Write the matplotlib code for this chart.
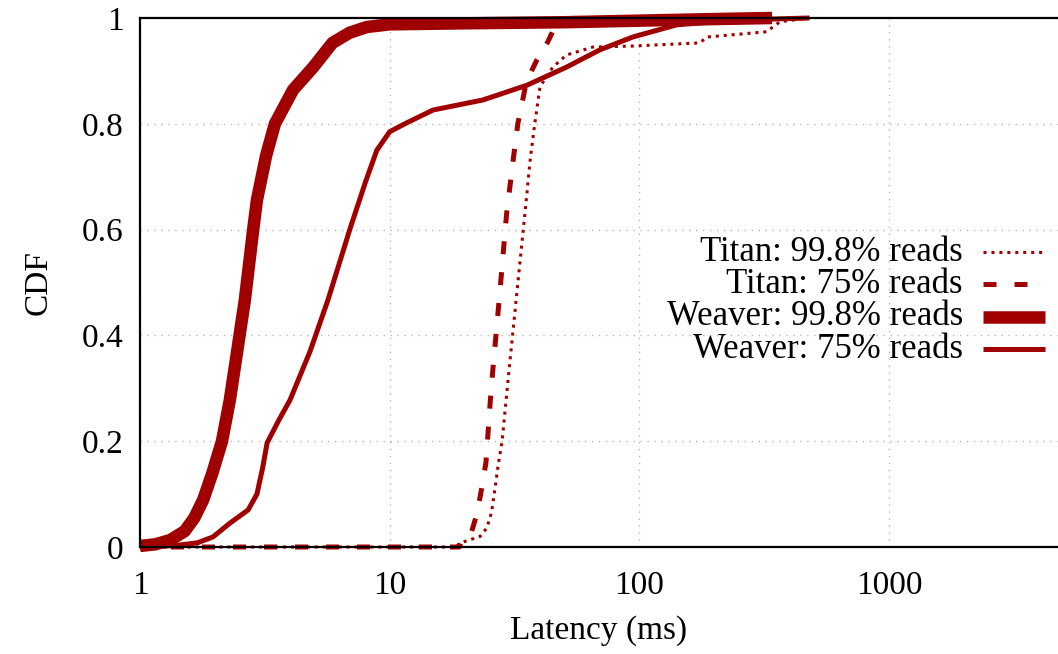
import matplotlib
matplotlib.use("Agg")
import matplotlib.pyplot as plt
from matplotlib.lines import Line2D

# latency (ms) / CDF values
titan998_x = [1, 18.5, 19, 23, 24.5, 25.6, 26.4, 27.2, 28.2, 30, 32.3, 34.8, 36.5, 38.1, 40, 45, 51, 65, 94, 175, 186, 323, 366, 480]
titan998_y = [0, 0, 0.007, 0.02, 0.036, 0.066, 0.11, 0.155, 0.20, 0.33, 0.48, 0.63, 0.73, 0.80, 0.87, 0.907, 0.93, 0.945, 0.947, 0.953, 0.964, 0.974, 0.993, 1.0]

titan75_x = [1, 19, 19.6, 21, 22.4, 23.4, 24.3, 25.5, 27.6, 29.4, 31.2, 32.6, 35.3, 38.8, 43, 45, 48, 55]
titan75_y = [0, 0, 0.013, 0.02, 0.064, 0.113, 0.16, 0.3, 0.48, 0.63, 0.73, 0.80, 0.88, 0.92, 0.955, 0.975, 0.99, 1.0]

weaver998_x = [1.0, 1.15, 1.32, 1.51, 1.65, 1.79, 1.95, 2.13, 2.29, 2.45, 2.63, 2.84, 2.94, 3.2, 3.47, 4.1, 4.94, 5.9, 6.9, 8.1, 10, 20, 50, 100, 200, 340]
weaver998_y = [0.002, 0.005, 0.013, 0.03, 0.055, 0.089, 0.14, 0.2, 0.278, 0.37, 0.467, 0.6, 0.656, 0.74, 0.8, 0.864, 0.907, 0.953, 0.972, 0.983, 0.988, 0.99, 0.992, 0.995, 0.998, 1.0]

weaver75_x = [1.0, 1.4, 1.7, 1.96, 2.29, 2.71, 2.94, 3.1, 3.23, 3.6, 3.99, 4.8, 5.66, 6.92, 8.0, 8.88, 10.0, 11.5, 14.9, 23.6, 35.5, 51, 69.6, 94, 141, 238, 480]
weaver75_y = [0.0, 0.003, 0.008, 0.019, 0.045, 0.07, 0.10, 0.15, 0.197, 0.24, 0.278, 0.37, 0.467, 0.6, 0.69, 0.75, 0.785, 0.8, 0.826, 0.845, 0.873, 0.907, 0.94, 0.964, 0.987, 0.996, 1.0]

labels = ["Titan: 99.8% reads", "Titan: 75% reads", "Weaver: 99.8% reads", "Weaver: 75% reads"]
xticks = [1, 10, 100, 1000]
yticks = [0, 0.2, 0.4, 0.6, 0.8, 1]

red = "#a00000"
fs = 24
plt.rcParams['font.family'] = ['Liberation Serif', 'DejaVu Serif']

fig = plt.figure(figsize=(10.58, 6.54), dpi=100)
ax = fig.add_axes([140/1058, 1 - 547/654, 1 - 140/1058, (547 - 18)/654])

styles = [
    dict(lw=2.2, ls=(0, (1.0, 1.6))),
    dict(lw=3.6, ls=(0, (2.6, 3.6))),
    dict(lw=9, ls='-', solid_capstyle='butt'),
    dict(lw=3.6, ls='-', solid_capstyle='butt'),
]

ax.plot(titan998_x, titan998_y, color=red, clip_on=False, **styles[0])
ax.plot(titan75_x, titan75_y, color=red, clip_on=False, **styles[1])
ax.plot(weaver998_x, weaver998_y, color=red, clip_on=False, **styles[2])
ax.plot(weaver75_x, weaver75_y, color=red, clip_on=False, **styles[3])

ax.set_xscale('log')
ax.set_xlim(1, 4750)
ax.set_ylim(0, 1)
ax.set_xticks(xticks)
ax.set_xticklabels([str(t) for t in xticks])
ax.xaxis.set_minor_locator(matplotlib.ticker.NullLocator())
ax.set_yticks(yticks)
ax.set_yticklabels(["0", "0.2", "0.4", "0.6", "0.8", "1"])
ax.tick_params(axis='both', length=0, labelsize=fs)
ax.tick_params(axis='x', pad=17)
ax.tick_params(axis='y', pad=12)

ax.grid(True, color='#b8b8b8', ls=(0, (1, 4)), lw=1)
ax.set_axisbelow(True)

for s in ['left', 'bottom', 'top']:
    ax.spines[s].set_linewidth(1.6)
ax.spines['right'].set_visible(False)

ax.set_xlabel("Latency (ms)", fontsize=fs, labelpad=10)
ax.set_ylabel("CDF", fontsize=fs, labelpad=20)

# gnuplot-style key: right-aligned labels, sample line on the right
row_y = [0.557, 0.497, 0.435, 0.374]
for lab, st, yy in zip(labels, styles, row_y):
    ax.text(0.8965, yy, lab, transform=ax.transAxes, ha='right', va='center', fontsize=25)
    ax.add_line(Line2D([0.9183, 0.9858], [yy, yy], transform=ax.transAxes, color=red, clip_on=False, **st))

fig.savefig("out.png", dpi=100)
